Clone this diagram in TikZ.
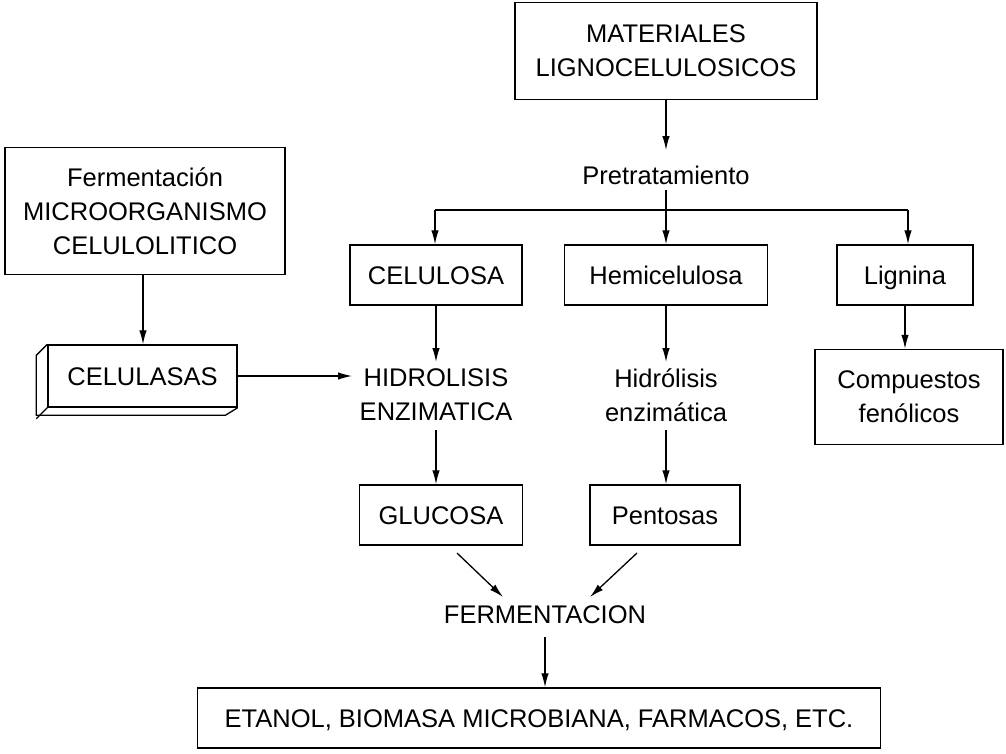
\documentclass[tikz,border=0pt]{standalone}
\usepackage{fontspec}
\setmainfont{Liberation Sans}
\usetikzlibrary{arrows.meta}
\begin{document}
\begin{tikzpicture}[x=1pt,y=-1pt,
  every node/.style={font=\fontsize{25.5}{34}\selectfont, align=center, inner sep=0pt},
  box/.style={draw, line width=1.4pt},
  sl/.style={text height=18.3pt, text depth=0pt},
  arr/.style={line width=1.3pt, -{Latex[length=14pt,width=7.5pt]}},
  ln/.style={line width=1.3pt}]
\useasboundingbox (0,0) rectangle (1006,753);
% boxes
\node[box, minimum width=302pt, minimum height=97pt] (mat) at (666,51) {MATERIALES\\LIGNOCELULOSICOS};
\node (pre) at (666,175) {Pretratamiento};
\node[box, minimum width=280pt, minimum height=127pt] (fer) at (145,211) {Fermentación\\MICROORGANISMO\\CELULOLITICO};
\node[box, sl, minimum width=172pt, minimum height=60pt] (cel) at (436,275) {CELULOSA};
\node[box, sl, minimum width=203pt, minimum height=60pt] (hem) at (666,275) {Hemicelulosa};
\node[box, sl, minimum width=136pt, minimum height=60pt] (lig) at (905,275) {Lignina};
\node[box, sl, minimum width=189pt, minimum height=62pt] (cls) at (142.5,376) {CELULASAS};
\draw[ln] (cls.north west) -- ++(-11,11) -- ++(0,60) -- ++(189,0) -- (cls.south east);
\draw[ln] (cls.south west) -- ++(-11,11);
\node (hid) at (436,395) {HIDROLISIS\\ENZIMATICA};
\node (hie) at (666,395) {Hidrólisis\\enzimática};
\node[box, minimum width=188pt, minimum height=95pt] (com) at (909,397) {Compuestos\\fenólicos};
\node[box, sl, minimum width=163pt, minimum height=60pt] (glu) at (441,515) {GLUCOSA};
\node[box, sl, minimum width=150pt, minimum height=60pt] (pen) at (665,515) {Pentosas};
\node (fmt) at (545,615) {FERMENTACION};
\node[box, sl, minimum width=683pt, minimum height=60pt] (eta) at (539,718) {ETANOL, BIOMASA MICROBIANA, FARMACOS, ETC.};
% connectors
\draw[arr] (mat.south) -- (666,150);
\coordinate (bar) at (666,210);
\draw[ln] (666,190) -- (bar);
\draw[ln] (435,210) -- (908,210);
\draw[arr] (435,210) -- (cel.north -| 435,0);
\draw[arr] (bar) -- (hem.north);
\draw[arr] (908,210) -- (lig.north -| 908,0);
\draw[arr] (fer.south -| 143,0) -- (cls.north -| 143,0);
\draw[arr] (cls.east) -- (cls.east -| 352,0);
\draw[arr] (cel.south) -- (436,362);
\draw[arr] (hem.south) -- (666,362);
\draw[arr] (lig.south -| 905,0) -- (com.north -| 905,0);
\draw[arr] (436,430) -- (glu.north -| 436,0);
\draw[arr] (666,430) -- (pen.north -| 666,0);
\draw[arr] (457,553) -- (503,597);
\draw[arr] (637,553) -- (590,597);
\draw[arr] (545,637) -- (eta.north -| 545,0);
\end{tikzpicture}
\end{document}
